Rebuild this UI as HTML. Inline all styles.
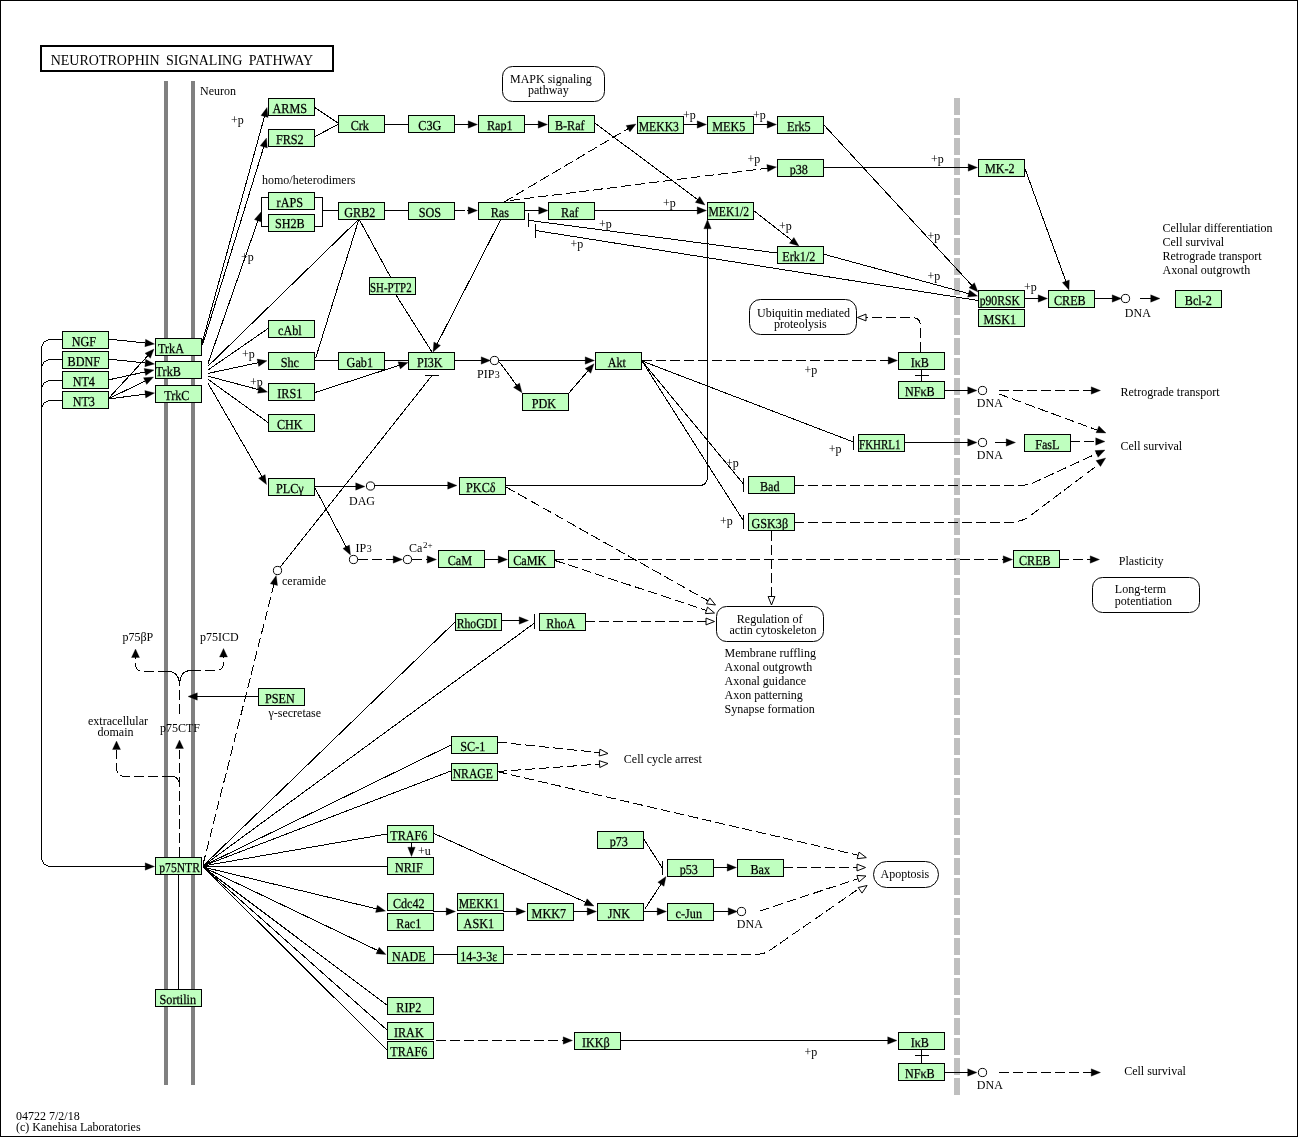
<!DOCTYPE html>
<html><head><meta charset="utf-8"><title>Neurotrophin signaling pathway</title>
<style>
html,body{margin:0;padding:0;background:#fff;}
body{width:1298px;height:1137px;overflow:hidden;font-family:"Liberation Serif",serif;}
svg{display:block;will-change:transform;}
.l{stroke:#000;stroke-width:1;fill:none;shape-rendering:crispEdges;}
.d{stroke-dasharray:10 4;}
.b{fill:#bfffbf;stroke:#000;stroke-width:1;shape-rendering:crispEdges;}
.bt{font-family:"Liberation Serif",serif;font-size:13.7px;text-rendering:geometricPrecision;text-anchor:middle;fill:#000;stroke:#000;stroke-width:0.25px;}
.t{font-family:"Liberation Serif",serif;font-size:12px;fill:#000;}
</style></head><body>
<svg width="1298" height="1137" viewBox="0 0 1298 1137">
<rect x="0" y="0" width="1298" height="1137" fill="#fff"/>
<rect x="0.5" y="0.5" width="1297" height="1136" fill="none" stroke="#000" stroke-width="1" shape-rendering="crispEdges"/>
<rect x="41" y="46" width="292" height="25" fill="#fff" stroke="#000" stroke-width="2" shape-rendering="crispEdges"/>
<text x="50.7" y="65" style="font-family:'Liberation Serif',serif;font-size:14px;word-spacing:3px" id="title">NEUROTROPHIN SIGNALING PATHWAY</text>
<rect x="164" y="81" width="4" height="1004" fill="#808080"/>
<rect x="191" y="81" width="4" height="1004" fill="#808080"/>
<line x1="957" y1="98" x2="957" y2="1095" stroke="#bfbfbf" stroke-width="6" stroke-dasharray="17 3"/>
<rect x="502.5" y="66.5" width="102.0" height="35.0" rx="10" ry="10" fill="#fff" stroke="#000" stroke-width="1"/>
<rect x="749.5" y="299.5" width="107.0" height="35.0" rx="11" ry="11" fill="#fff" stroke="#000" stroke-width="1"/>
<rect x="716.5" y="606.5" width="107.0" height="35.0" rx="10" ry="10" fill="#fff" stroke="#000" stroke-width="1"/>
<rect x="1092.5" y="577.5" width="107.0" height="35.0" rx="10" ry="10" fill="#fff" stroke="#000" stroke-width="1"/>
<rect x="873.5" y="861.5" width="65.0" height="26.0" rx="13" ry="13" fill="#fff" stroke="#000" stroke-width="1"/>
<path d="M62,339.5 H50.5 A9,9 0 0 0 41.5,348.5 V857.5 A9,9 0 0 0 50.5,866.5 H146" class="l"/>
<line x1="140.0" y1="866.5" x2="146.0" y2="866.5" class="l"/>
<polygon points="154.5,866.5 145.2,870.2 145.2,862.8" fill="#000" stroke="#000" stroke-width="0.3"/>
<path d="M62,359.5 H50.5 A9,9 0 0 0 41.5,368.5" class="l"/>
<path d="M62,380.5 H50.5 A9,9 0 0 0 41.5,389.5" class="l"/>
<path d="M62,400.5 H50.5 A9,9 0 0 0 41.5,409.5" class="l"/>
<line x1="108.0" y1="339.0" x2="146.0" y2="343.1" class="l" stroke-width="0.99"/>
<polygon points="154.5,344.0 144.9,346.7 145.6,339.3" fill="#000" stroke="#000" stroke-width="0.3"/>
<line x1="108.0" y1="359.0" x2="146.0" y2="363.1" class="l" stroke-width="0.99"/>
<polygon points="154.5,364.0 144.9,366.7 145.6,359.3" fill="#000" stroke="#000" stroke-width="0.3"/>
<line x1="108.0" y1="380.0" x2="145.7" y2="371.8" class="l" stroke-width="0.98"/>
<polygon points="154.0,370.0 145.7,375.6 144.1,368.4" fill="#000" stroke="#000" stroke-width="0.3"/>
<line x1="108.0" y1="399.0" x2="148.2" y2="355.3" class="l" stroke-width="0.74"/>
<polygon points="154.0,349.0 150.4,358.3 145.0,353.3" fill="#000" stroke="#000" stroke-width="0.3"/>
<line x1="108.0" y1="399.0" x2="145.8" y2="380.7" class="l" stroke-width="0.90"/>
<polygon points="153.5,377.0 146.7,384.4 143.5,377.7" fill="#000" stroke="#000" stroke-width="0.3"/>
<line x1="108.0" y1="399.0" x2="146.1" y2="394.1" class="l" stroke-width="0.99"/>
<polygon points="154.5,393.0 145.7,397.9 144.8,390.5" fill="#000" stroke="#000" stroke-width="0.3"/>
<line x1="201.5" y1="345.0" x2="264.7" y2="115.7" class="l" stroke-width="0.96"/>
<polygon points="267.0,107.5 268.1,117.4 261.0,115.5" fill="#000" stroke="#000" stroke-width="0.3"/>
<line x1="202.5" y1="345.0" x2="264.0" y2="146.1" class="l" stroke-width="0.96"/>
<polygon points="266.5,138.0 267.3,148.0 260.2,145.8" fill="#000" stroke="#000" stroke-width="0.3"/>
<line x1="208.0" y1="363.5" x2="258.2" y2="220.0" class="l" stroke-width="0.94"/>
<polygon points="261.0,212.0 261.4,222.0 254.4,219.6" fill="#000" stroke="#000" stroke-width="0.3"/>
<line x1="208.0" y1="366.2" x2="359.0" y2="219.0" class="l" stroke-width="0.72"/>
<line x1="208.0" y1="370.0" x2="268.0" y2="328.5" class="l" stroke-width="0.82"/>
<line x1="208.0" y1="373.4" x2="258.7" y2="362.6" class="l" stroke-width="0.98"/>
<polygon points="267.0,360.8 258.7,366.4 257.1,359.1" fill="#000" stroke="#000" stroke-width="0.3"/>
<line x1="208.0" y1="376.2" x2="259.3" y2="389.8" class="l" stroke-width="0.97"/>
<polygon points="267.5,392.0 257.6,393.2 259.5,386.0" fill="#000" stroke="#000" stroke-width="0.3"/>
<line x1="208.0" y1="379.3" x2="268.0" y2="422.5" class="l" stroke-width="0.81"/>
<line x1="208.0" y1="383.2" x2="262.2" y2="477.1" class="l" stroke-width="0.87"/>
<polygon points="266.5,484.5 258.6,478.3 265.1,474.6" fill="#000" stroke="#000" stroke-width="0.3"/>
<line x1="314.0" y1="107.0" x2="338.0" y2="123.0" class="l" stroke-width="0.83"/>
<line x1="314.0" y1="137.0" x2="338.0" y2="124.5" class="l" stroke-width="0.89"/>
<line x1="384.0" y1="124.5" x2="408.0" y2="124.5" class="l"/>
<line x1="454.0" y1="124.5" x2="469.0" y2="124.5" class="l"/>
<polygon points="477.5,124.5 468.2,128.2 468.2,120.8" fill="#000" stroke="#000" stroke-width="0.3"/>
<line x1="524.0" y1="124.5" x2="539.0" y2="124.5" class="l"/>
<polygon points="547.5,124.5 538.2,128.2 538.2,120.8" fill="#000" stroke="#000" stroke-width="0.3"/>
<line x1="594.0" y1="122.5" x2="698.2" y2="199.9" class="l" stroke-width="0.80"/>
<polygon points="705.0,205.0 695.3,202.4 699.7,196.5" fill="#000" stroke="#000" stroke-width="0.3"/>
<path d="M268,197.5 H261.5 V226.5 H268" class="l"/>
<path d="M314,197.5 H322.5 V226.5 H314" class="l"/>
<line x1="322.0" y1="210.5" x2="338.0" y2="210.5" class="l"/>
<line x1="384.0" y1="210.5" x2="408.0" y2="210.5" class="l"/>
<line x1="454.0" y1="210.5" x2="465.0" y2="210.5" class="l"/>
<line x1="467.0" y1="210.5" x2="469.0" y2="210.5" class="l"/>
<polygon points="477.5,210.5 468.2,214.2 468.2,206.8" fill="#000" stroke="#000" stroke-width="0.3"/>
<line x1="524.0" y1="210.5" x2="539.5" y2="210.5" class="l"/>
<polygon points="548.0,210.5 538.7,214.2 538.7,206.8" fill="#000" stroke="#000" stroke-width="0.3"/>
<line x1="594.0" y1="210.5" x2="698.0" y2="210.5" class="l"/>
<polygon points="706.5,210.5 697.2,214.2 697.2,206.8" fill="#000" stroke="#000" stroke-width="0.3"/>
<line x1="504.0" y1="202.0" x2="628.7" y2="128.3" class="l d" stroke-width="0.86"/>
<polygon points="636.0,124.0 629.9,131.9 626.1,125.5" fill="#000" stroke="#000" stroke-width="0.3"/>
<line x1="510.0" y1="200.5" x2="768.1" y2="168.1" class="l d" stroke-width="0.99"/>
<polygon points="776.5,167.0 767.7,171.8 766.8,164.5" fill="#000" stroke="#000" stroke-width="0.3"/>
<line x1="683.0" y1="124.5" x2="698.0" y2="124.5" class="l"/>
<polygon points="706.5,124.5 697.2,128.2 697.2,120.8" fill="#000" stroke="#000" stroke-width="0.3"/>
<line x1="753.0" y1="124.5" x2="768.0" y2="124.5" class="l"/>
<polygon points="776.5,124.5 767.2,128.2 767.2,120.8" fill="#000" stroke="#000" stroke-width="0.3"/>
<line x1="823.0" y1="124.0" x2="972.2" y2="285.8" class="l" stroke-width="0.73"/>
<polygon points="978.0,292.0 969.0,287.7 974.4,282.7" fill="#000" stroke="#000" stroke-width="0.3"/>
<line x1="823.0" y1="167.5" x2="969.0" y2="167.5" class="l"/>
<polygon points="977.5,167.5 968.2,171.2 968.2,163.8" fill="#000" stroke="#000" stroke-width="0.3"/>
<line x1="1024.0" y1="166.0" x2="1066.1" y2="282.0" class="l" stroke-width="0.94"/>
<polygon points="1069.0,290.0 1062.3,282.5 1069.3,280.0" fill="#000" stroke="#000" stroke-width="0.3"/>
<line x1="753.5" y1="210.5" x2="792.3" y2="240.8" class="l" stroke-width="0.79"/>
<polygon points="799.0,246.0 789.4,243.2 793.9,237.4" fill="#000" stroke="#000" stroke-width="0.3"/>
<line x1="823.0" y1="254.0" x2="969.3" y2="293.8" class="l" stroke-width="0.96"/>
<polygon points="977.5,296.0 967.6,297.1 969.5,290.0" fill="#000" stroke="#000" stroke-width="0.3"/>
<line x1="777.0" y1="253.0" x2="528.5" y2="220.3" class="l" stroke-width="0.99"/>
<line x1="528.5" y1="213.0" x2="528.5" y2="227.0" class="l"/>
<line x1="978.0" y1="300.5" x2="535.5" y2="230.5" class="l" stroke-width="0.99"/>
<line x1="535.5" y1="224.0" x2="535.5" y2="238.0" class="l"/>
<path d="M505,485.5 H699 Q707.5,485.5 707.5,477 V228" class="l"/>
<line x1="707.5" y1="240.0" x2="707.5" y2="228.0" class="l"/>
<polygon points="707.5,219.5 711.2,228.8 703.8,228.8" fill="#000" stroke="#000" stroke-width="0.3"/>
<line x1="1024.0" y1="298.5" x2="1039.0" y2="298.5" class="l"/>
<polygon points="1047.5,298.5 1038.2,302.2 1038.2,294.8" fill="#000" stroke="#000" stroke-width="0.3"/>
<line x1="1094.0" y1="298.5" x2="1113.0" y2="298.5" class="l"/>
<polygon points="1121.5,298.5 1112.2,302.2 1112.2,294.8" fill="#000" stroke="#000" stroke-width="0.3"/>
<line x1="1140.0" y1="298.5" x2="1151.5" y2="298.5" class="l"/>
<polygon points="1160.0,298.5 1150.7,302.2 1150.7,294.8" fill="#000" stroke="#000" stroke-width="0.3"/>
<path d="M920.5,352 V326 Q920.5,317.5 912,317.5 H866" class="l d"/>
<polygon points="857.5,317.5 866.0,314.1 866.0,320.9" fill="#fff" stroke="#000" stroke-width="1"/>
<line x1="642.0" y1="360.5" x2="889.0" y2="360.5" class="l d"/>
<polygon points="897.5,360.5 888.2,364.2 888.2,356.8" fill="#000" stroke="#000" stroke-width="0.3"/>
<line x1="921.5" y1="369.0" x2="921.5" y2="381.0" class="l"/>
<line x1="915.0" y1="375.5" x2="929.0" y2="375.5" class="l"/>
<line x1="944.0" y1="390.5" x2="968.5" y2="390.5" class="l"/>
<polygon points="977.0,390.5 967.7,394.2 967.7,386.8" fill="#000" stroke="#000" stroke-width="0.3"/>
<line x1="999.0" y1="390.5" x2="1092.0" y2="390.5" class="l d"/>
<polygon points="1100.5,390.5 1091.2,394.2 1091.2,386.8" fill="#000" stroke="#000" stroke-width="0.3"/>
<path d="M999,394 L1097,430" class="l d"/>
<polygon points="1106.0,433.0 1096.0,432.7 1098.9,425.9" fill="#000" stroke="#000" stroke-width="0.3"/>
<line x1="642.0" y1="361.0" x2="853.5" y2="442.0" class="l" stroke-width="0.93"/>
<line x1="853.5" y1="436.0" x2="853.5" y2="450.0" class="l"/>
<line x1="905.0" y1="442.5" x2="968.5" y2="442.5" class="l"/>
<polygon points="977.0,442.5 967.7,446.2 967.7,438.8" fill="#000" stroke="#000" stroke-width="0.3"/>
<line x1="995.0" y1="442.5" x2="1007.0" y2="442.5" class="l"/>
<polygon points="1015.5,442.5 1006.2,446.2 1006.2,438.8" fill="#000" stroke="#000" stroke-width="0.3"/>
<line x1="1070.0" y1="441.5" x2="1096.5" y2="441.5" class="l d"/>
<polygon points="1105.0,441.5 1095.7,445.2 1095.7,437.8" fill="#000" stroke="#000" stroke-width="0.3"/>
<line x1="642.0" y1="361.0" x2="743.5" y2="484.0" class="l" stroke-width="0.77"/>
<line x1="743.5" y1="478.0" x2="743.5" y2="492.0" class="l"/>
<line x1="642.0" y1="361.0" x2="743.5" y2="521.0" class="l" stroke-width="0.84"/>
<line x1="743.5" y1="515.0" x2="743.5" y2="529.0" class="l"/>
<path d="M794,485.5 H1018 Q1029,485.5 1036,481.6 L1097,453.5" class="l d"/>
<polygon points="1105.0,450.0 1098.1,457.3 1095.0,450.6" fill="#000" stroke="#000" stroke-width="0.3"/>
<path d="M794,522.5 H1008 Q1021,522.5 1030,516 L1098,465" class="l d"/>
<polygon points="1105.7,458.0 1100.5,466.5 1096.0,460.6" fill="#000" stroke="#000" stroke-width="0.3"/>
<line x1="771.5" y1="531.0" x2="771.5" y2="597.0" class="l d"/>
<polygon points="771.5,605.0 768.1,596.5 774.9,596.5" fill="#fff" stroke="#000" stroke-width="1"/>
<line x1="424.5" y1="375.5" x2="439.0" y2="375.5" class="l"/>
<line x1="432.0" y1="375.5" x2="280.3" y2="567.0" class="l" stroke-width="0.78"/>
<line x1="203.0" y1="864.5" x2="274.1" y2="583.8" class="l d" stroke-width="0.97"/>
<polygon points="276.2,575.6 277.5,585.5 270.3,583.7" fill="#000" stroke="#000" stroke-width="0.3"/>
<line x1="314.0" y1="486.5" x2="356.5" y2="486.5" class="l"/>
<polygon points="365.0,486.5 355.7,490.2 355.7,482.8" fill="#000" stroke="#000" stroke-width="0.3"/>
<line x1="375.0" y1="485.5" x2="448.5" y2="485.5" class="l"/>
<polygon points="457.0,485.5 447.7,489.2 447.7,481.8" fill="#000" stroke="#000" stroke-width="0.3"/>
<line x1="315.0" y1="488.0" x2="346.5" y2="547.5" class="l" stroke-width="0.88"/>
<polygon points="350.5,555.0 342.9,548.5 349.4,545.0" fill="#000" stroke="#000" stroke-width="0.3"/>
<line x1="358.0" y1="559.5" x2="394.0" y2="559.5" class="l d"/>
<polygon points="402.5,559.5 393.2,563.2 393.2,555.8" fill="#000" stroke="#000" stroke-width="0.3"/>
<line x1="412.0" y1="559.5" x2="428.0" y2="559.5" class="l d"/>
<polygon points="436.5,559.5 427.2,563.2 427.2,555.8" fill="#000" stroke="#000" stroke-width="0.3"/>
<line x1="484.0" y1="559.5" x2="499.0" y2="559.5" class="l"/>
<polygon points="507.5,559.5 498.2,563.2 498.2,555.8" fill="#000" stroke="#000" stroke-width="0.3"/>
<line x1="554.0" y1="559.5" x2="1004.0" y2="559.5" class="l d"/>
<polygon points="1012.5,559.5 1003.2,563.2 1003.2,555.8" fill="#000" stroke="#000" stroke-width="0.3"/>
<line x1="1059.0" y1="559.5" x2="1091.0" y2="559.5" class="l d"/>
<polygon points="1099.5,559.5 1090.2,563.2 1090.2,555.8" fill="#000" stroke="#000" stroke-width="0.3"/>
<line x1="555.0" y1="560.5" x2="706.9" y2="610.5" class="l d" stroke-width="0.95"/>
<polygon points="714.5,613.0 705.4,613.6 707.5,607.1" fill="#fff" stroke="#000" stroke-width="1"/>
<line x1="506.0" y1="487.0" x2="708.5" y2="601.1" class="l d" stroke-width="0.87"/>
<polygon points="715.5,605.0 706.4,603.8 709.8,597.9" fill="#fff" stroke="#000" stroke-width="1"/>
<line x1="585.0" y1="621.5" x2="706.5" y2="621.5" class="l d"/>
<polygon points="714.5,621.5 706.0,624.9 706.0,618.1" fill="#fff" stroke="#000" stroke-width="1"/>
<line x1="314.0" y1="360.5" x2="338.0" y2="360.5" class="l"/>
<line x1="384.0" y1="360.5" x2="408.0" y2="360.5" class="l"/>
<line x1="315.0" y1="392.5" x2="399.9" y2="365.1" class="l" stroke-width="0.95"/>
<polygon points="408.0,362.5 400.3,368.9 398.0,361.8" fill="#000" stroke="#000" stroke-width="0.3"/>
<line x1="315.5" y1="358.5" x2="359.0" y2="219.0" class="l" stroke-width="0.95"/>
<line x1="359.0" y1="219.0" x2="391.0" y2="278.0" class="l" stroke-width="0.88"/>
<line x1="396.0" y1="295.0" x2="432.0" y2="352.0" class="l" stroke-width="0.85"/>
<line x1="501.0" y1="219.0" x2="436.9" y2="344.4" class="l" stroke-width="0.89"/>
<polygon points="433.0,352.0 433.9,342.0 440.5,345.4" fill="#000" stroke="#000" stroke-width="0.3"/>
<line x1="454.0" y1="360.5" x2="482.0" y2="360.5" class="l"/>
<polygon points="490.5,360.5 481.2,364.2 481.2,356.8" fill="#000" stroke="#000" stroke-width="0.3"/>
<line x1="498.0" y1="360.5" x2="586.0" y2="360.5" class="l"/>
<polygon points="594.5,360.5 585.2,364.2 585.2,356.8" fill="#000" stroke="#000" stroke-width="0.3"/>
<line x1="499.5" y1="362.0" x2="517.0" y2="385.8" class="l" stroke-width="0.81"/>
<polygon points="522.0,392.7 513.5,387.4 519.5,383.0" fill="#000" stroke="#000" stroke-width="0.3"/>
<line x1="569.0" y1="393.0" x2="588.5" y2="370.3" class="l" stroke-width="0.76"/>
<polygon points="594.0,363.8 590.8,373.3 585.1,368.5" fill="#000" stroke="#000" stroke-width="0.3"/>
<line x1="203.0" y1="866.0" x2="455.0" y2="622.0" class="l" stroke-width="0.72"/>
<line x1="203.0" y1="866.0" x2="534.5" y2="623.0" class="l" stroke-width="0.81"/>
<line x1="534.5" y1="614.0" x2="534.5" y2="629.0" class="l"/>
<line x1="502.0" y1="620.5" x2="520.0" y2="620.5" class="l"/>
<polygon points="528.5,620.5 519.2,624.2 519.2,616.8" fill="#000" stroke="#000" stroke-width="0.3"/>
<line x1="203.0" y1="866.0" x2="451.0" y2="745.0" class="l" stroke-width="0.90"/>
<line x1="203.0" y1="866.0" x2="451.0" y2="771.0" class="l" stroke-width="0.93"/>
<line x1="203.0" y1="866.0" x2="387.0" y2="834.0" class="l" stroke-width="0.99"/>
<line x1="203.0" y1="866.5" x2="387.0" y2="866.5" class="l"/>
<line x1="203.0" y1="867.0" x2="377.2" y2="909.0" class="l" stroke-width="0.97"/>
<polygon points="385.5,911.0 375.6,912.4 377.3,905.2" fill="#000" stroke="#000" stroke-width="0.3"/>
<line x1="203.0" y1="867.0" x2="378.3" y2="950.8" class="l" stroke-width="0.90"/>
<polygon points="386.0,954.5 376.0,953.8 379.2,947.2" fill="#000" stroke="#000" stroke-width="0.3"/>
<line x1="203.0" y1="867.0" x2="387.0" y2="1005.0" class="l" stroke-width="0.80"/>
<line x1="203.0" y1="867.0" x2="387.0" y2="1030.0" class="l" stroke-width="0.75"/>
<line x1="203.0" y1="867.0" x2="387.0" y2="1050.0" class="l" stroke-width="0.72"/>
<line x1="497.0" y1="742.0" x2="600.0" y2="752.7" class="l d" stroke-width="0.99"/>
<polygon points="608.0,753.5 599.2,756.0 599.9,749.2" fill="#fff" stroke="#000" stroke-width="1"/>
<line x1="497.0" y1="771.5" x2="600.0" y2="764.1" class="l d"/>
<polygon points="608.0,763.5 599.8,767.5 599.3,760.7" fill="#fff" stroke="#000" stroke-width="1"/>
<path d="M497,771.5 L845,852.2 Q852,853.8 858,855.3" class="l d"/>
<polygon points="866.3,857.6 857.2,858.7 859.0,852.1" fill="#fff" stroke="#000" stroke-width="1"/>
<line x1="434.0" y1="833.5" x2="586.3" y2="902.5" class="l" stroke-width="0.91"/>
<polygon points="594.0,906.0 584.0,905.5 587.1,898.8" fill="#000" stroke="#000" stroke-width="0.3"/>
<line x1="411.5" y1="842.0" x2="411.5" y2="848.0" class="l"/>
<polygon points="411.5,856.5 407.8,847.2 415.2,847.2" fill="#000" stroke="#000" stroke-width="0.3"/>
<line x1="258.0" y1="696.5" x2="196.5" y2="696.5" class="l"/>
<polygon points="188.0,696.5 197.3,692.8 197.3,700.2" fill="#000" stroke="#000" stroke-width="0.3"/>
<line x1="644.0" y1="839.5" x2="662.0" y2="867.5" class="l" stroke-width="0.84"/>
<line x1="662.5" y1="861.0" x2="662.5" y2="875.0" class="l"/>
<line x1="644.5" y1="909.5" x2="661.4" y2="883.6" class="l" stroke-width="0.84"/>
<polygon points="666.0,876.5 664.0,886.3 657.8,882.3" fill="#000" stroke="#000" stroke-width="0.3"/>
<line x1="644.0" y1="911.5" x2="658.0" y2="911.5" class="l"/>
<polygon points="666.5,911.5 657.2,915.2 657.2,907.8" fill="#000" stroke="#000" stroke-width="0.3"/>
<line x1="713.0" y1="911.5" x2="729.0" y2="911.5" class="l"/>
<polygon points="737.5,911.5 728.2,915.2 728.2,907.8" fill="#000" stroke="#000" stroke-width="0.3"/>
<line x1="760.0" y1="911.0" x2="858.4" y2="878.5" class="l d" stroke-width="0.95"/>
<polygon points="866.0,876.0 859.0,881.9 856.9,875.4" fill="#fff" stroke="#000" stroke-width="1"/>
<line x1="713.0" y1="867.5" x2="728.0" y2="867.5" class="l"/>
<polygon points="736.5,867.5 727.2,871.2 727.2,863.8" fill="#000" stroke="#000" stroke-width="0.3"/>
<line x1="783.0" y1="867.5" x2="857.5" y2="867.5" class="l d"/>
<polygon points="865.5,867.5 857.0,870.9 857.0,864.1" fill="#fff" stroke="#000" stroke-width="1"/>
<path d="M503,954.5 H754 Q765,954.5 771,949.5 L859.5,888.2" class="l d"/>
<polygon points="867.1,885.5 862.0,893.1 858.2,887.5" fill="#fff" stroke="#000" stroke-width="1"/>
<line x1="433.0" y1="954.5" x2="457.0" y2="954.5" class="l"/>
<line x1="433.0" y1="911.5" x2="447.0" y2="911.5" class="l"/>
<polygon points="455.5,911.5 446.2,915.2 446.2,907.8" fill="#000" stroke="#000" stroke-width="0.3"/>
<line x1="503.0" y1="911.5" x2="517.1" y2="911.5" class="l"/>
<polygon points="525.6,911.5 516.3,915.2 516.3,907.8" fill="#000" stroke="#000" stroke-width="0.3"/>
<line x1="573.0" y1="911.5" x2="588.0" y2="911.5" class="l"/>
<polygon points="596.5,911.5 587.2,915.2 587.2,907.8" fill="#000" stroke="#000" stroke-width="0.3"/>
<line x1="436.0" y1="1040.5" x2="564.0" y2="1040.5" class="l d"/>
<polygon points="572.5,1040.5 563.2,1044.2 563.2,1036.8" fill="#000" stroke="#000" stroke-width="0.3"/>
<line x1="620.0" y1="1040.5" x2="888.5" y2="1040.5" class="l"/>
<polygon points="897.0,1040.5 887.7,1044.2 887.7,1036.8" fill="#000" stroke="#000" stroke-width="0.3"/>
<line x1="921.5" y1="1049.0" x2="921.5" y2="1063.0" class="l"/>
<line x1="915.0" y1="1055.5" x2="929.0" y2="1055.5" class="l"/>
<line x1="944.0" y1="1072.5" x2="968.5" y2="1072.5" class="l"/>
<polygon points="977.0,1072.5 967.7,1076.2 967.7,1068.8" fill="#000" stroke="#000" stroke-width="0.3"/>
<line x1="999.0" y1="1072.5" x2="1092.0" y2="1072.5" class="l d"/>
<polygon points="1100.5,1072.5 1091.2,1076.2 1091.2,1068.8" fill="#000" stroke="#000" stroke-width="0.3"/>
<line x1="178.5" y1="875.0" x2="178.5" y2="989.0" class="l"/>
<path d="M179.5,857 V750" class="l d"/>
<polygon points="179.5,740.0 183.5,748.5 175.5,748.5" fill="#000" stroke="#000" stroke-width="0.3"/>
<path d="M172,776.5 Q179.5,776.5 179.5,786" class="l"/>
<path d="M172,776.5 H125 Q116.5,776.5 116.5,768 V750" class="l d"/>
<polygon points="116.5,741.0 120.5,749.5 112.5,749.5" fill="#000" stroke="#000" stroke-width="0.3"/>
<path d="M179.5,714 V686" class="l d"/>
<path d="M179.5,686 Q179.5,671.5 168,671.5" class="l"/>
<path d="M179.5,686 Q179.5,670.5 191,670.5" class="l"/>
<path d="M168,671.5 H143 Q135.5,671.5 135.5,663.5 V657" class="l d"/>
<path d="M191,670.5 H216 Q223.5,670.5 223.5,662.5 V656" class="l d"/>
<polygon points="135.5,649.0 139.5,657.5 131.5,657.5" fill="#000" stroke="#000" stroke-width="0.3"/>
<polygon points="223.5,648.5 227.5,657.0 219.5,657.0" fill="#000" stroke="#000" stroke-width="0.3"/>
<rect x="268.5" y="98.5" width="46" height="17" class="b"/>
<text transform="translate(289.8,113) scale(0.889,1)" class="bt">ARMS</text>
<rect x="268.5" y="129.5" width="46" height="17" class="b"/>
<text transform="translate(289.8,144) scale(0.889,1)" class="bt">FRS2</text>
<rect x="268.5" y="192.5" width="46" height="17" class="b"/>
<text transform="translate(289.8,207) scale(0.889,1)" class="bt">rAPS</text>
<rect x="268.5" y="214.5" width="46" height="17" class="b"/>
<text transform="translate(289.8,228) scale(0.889,1)" class="bt">SH2B</text>
<rect x="338.5" y="115.5" width="46" height="17" class="b"/>
<text transform="translate(359.8,130) scale(0.889,1)" class="bt">Crk</text>
<rect x="408.5" y="115.5" width="46" height="17" class="b"/>
<text transform="translate(429.8,130) scale(0.889,1)" class="bt">C3G</text>
<rect x="478.5" y="115.5" width="46" height="17" class="b"/>
<text transform="translate(499.8,130) scale(0.889,1)" class="bt">Rap1</text>
<rect x="548.5" y="115.5" width="46" height="17" class="b"/>
<text transform="translate(569.8,130) scale(0.889,1)" class="bt">B-Raf</text>
<rect x="637.5" y="116.5" width="46" height="17" class="b"/>
<text transform="translate(658.8,131) scale(0.853,1)" class="bt">MEKK3</text>
<rect x="707.5" y="116.5" width="46" height="17" class="b"/>
<text transform="translate(728.8,131) scale(0.889,1)" class="bt">MEK5</text>
<rect x="777.5" y="116.5" width="46" height="17" class="b"/>
<text transform="translate(798.8,131) scale(0.889,1)" class="bt">Erk5</text>
<rect x="777.5" y="159.5" width="46" height="17" class="b"/>
<text transform="translate(798.8,174) scale(0.889,1)" class="bt">p38</text>
<rect x="978.5" y="159.5" width="46" height="17" class="b"/>
<text transform="translate(999.8,173) scale(0.889,1)" class="bt">MK-2</text>
<rect x="338.5" y="202.5" width="46" height="17" class="b"/>
<text transform="translate(359.8,217) scale(0.889,1)" class="bt">GRB2</text>
<rect x="408.5" y="202.5" width="46" height="17" class="b"/>
<text transform="translate(429.8,217) scale(0.889,1)" class="bt">SOS</text>
<rect x="478.5" y="202.5" width="46" height="17" class="b"/>
<text transform="translate(499.8,217) scale(0.889,1)" class="bt">Ras</text>
<rect x="548.5" y="202.5" width="46" height="17" class="b"/>
<text transform="translate(569.8,217) scale(0.889,1)" class="bt">Raf</text>
<rect x="707.5" y="202.5" width="46" height="17" class="b"/>
<text transform="translate(728.8,216) scale(0.849,1)" class="bt">MEK1/2</text>
<rect x="777.5" y="246.5" width="46" height="17" class="b"/>
<text transform="translate(798.8,261) scale(0.889,1)" class="bt">Erk1/2</text>
<rect x="369.5" y="277.5" width="46" height="17" class="b"/>
<text transform="translate(390.8,292) scale(0.790,1)" class="bt">SH-PTP2</text>
<rect x="978.5" y="290.5" width="46" height="17" class="b"/>
<text transform="translate(999.8,305) scale(0.853,1)" class="bt">p90RSK</text>
<rect x="978.5" y="309.5" width="46" height="17" class="b"/>
<text transform="translate(999.8,324) scale(0.889,1)" class="bt">MSK1</text>
<rect x="1048.5" y="290.5" width="46" height="17" class="b"/>
<text transform="translate(1069.8,305) scale(0.889,1)" class="bt">CREB</text>
<rect x="1175.5" y="290.5" width="46" height="17" class="b"/>
<text transform="translate(1198.3,305) scale(0.889,1)" class="bt">Bcl-2</text>
<rect x="62.5" y="331.5" width="46" height="17" class="b"/>
<text transform="translate(83.8,346) scale(0.889,1)" class="bt">NGF</text>
<rect x="62.5" y="351.5" width="46" height="17" class="b"/>
<text transform="translate(83.8,366) scale(0.889,1)" class="bt">BDNF</text>
<rect x="62.5" y="371.5" width="46" height="17" class="b"/>
<text transform="translate(83.8,386) scale(0.889,1)" class="bt">NT4</text>
<rect x="62.5" y="391.5" width="46" height="17" class="b"/>
<text transform="translate(83.8,406) scale(0.889,1)" class="bt">NT3</text>
<rect x="155.5" y="338.5" width="46" height="17" class="b"/>
<text transform="translate(171.0,353) scale(0.889,1)" class="bt">TrkA</text>
<rect x="155.5" y="361.5" width="46" height="17" class="b"/>
<text transform="translate(168.2,376) scale(0.889,1)" class="bt">TrkB</text>
<rect x="155.5" y="385.5" width="46" height="17" class="b"/>
<text transform="translate(176.8,400) scale(0.889,1)" class="bt">TrkC</text>
<rect x="268.5" y="320.5" width="46" height="17" class="b"/>
<text transform="translate(289.8,335) scale(0.889,1)" class="bt">cAbl</text>
<rect x="268.5" y="352.5" width="46" height="17" class="b"/>
<text transform="translate(289.8,367) scale(0.889,1)" class="bt">Shc</text>
<rect x="268.5" y="383.5" width="46" height="17" class="b"/>
<text transform="translate(289.8,398) scale(0.889,1)" class="bt">IRS1</text>
<rect x="268.5" y="414.5" width="46" height="17" class="b"/>
<text transform="translate(289.8,429) scale(0.889,1)" class="bt">CHK</text>
<rect x="268.5" y="478.5" width="46" height="17" class="b"/>
<text transform="translate(289.8,493) scale(0.889,1)" class="bt">PLCγ</text>
<rect x="338.5" y="352.5" width="46" height="17" class="b"/>
<text transform="translate(359.8,367) scale(0.889,1)" class="bt">Gab1</text>
<rect x="408.5" y="352.5" width="46" height="17" class="b"/>
<text transform="translate(429.8,367) scale(0.889,1)" class="bt">PI3K</text>
<rect x="595.5" y="352.5" width="46" height="17" class="b"/>
<text transform="translate(616.8,367) scale(0.889,1)" class="bt">Akt</text>
<rect x="522.5" y="393.5" width="46" height="17" class="b"/>
<text transform="translate(543.8,408) scale(0.889,1)" class="bt">PDK</text>
<rect x="459.5" y="477.5" width="46" height="17" class="b"/>
<text transform="translate(480.8,492) scale(0.889,1)" class="bt">PKCδ</text>
<rect x="438.5" y="550.5" width="46" height="17" class="b"/>
<text transform="translate(459.8,565) scale(0.889,1)" class="bt">CaM</text>
<rect x="508.5" y="550.5" width="46" height="17" class="b"/>
<text transform="translate(529.8,565) scale(0.889,1)" class="bt">CaMK</text>
<rect x="898.5" y="352.5" width="46" height="17" class="b"/>
<text transform="translate(919.8,367) scale(0.889,1)" class="bt">IκB</text>
<rect x="898.5" y="381.5" width="46" height="17" class="b"/>
<text transform="translate(919.8,396) scale(0.889,1)" class="bt">NFκB</text>
<rect x="858.5" y="434.5" width="46" height="17" class="b"/>
<text transform="translate(879.8,449) scale(0.802,1)" class="bt">FKHRL1</text>
<rect x="1024.5" y="434.5" width="46" height="17" class="b"/>
<text transform="translate(1047.3,449) scale(0.889,1)" class="bt">FasL</text>
<rect x="748.5" y="476.5" width="46" height="17" class="b"/>
<text transform="translate(769.8,491) scale(0.889,1)" class="bt">Bad</text>
<rect x="748.5" y="513.5" width="46" height="17" class="b"/>
<text transform="translate(769.8,528) scale(0.887,1)" class="bt">GSK3β</text>
<rect x="1013.5" y="550.5" width="46" height="17" class="b"/>
<text transform="translate(1034.8,565) scale(0.889,1)" class="bt">CREB</text>
<rect x="258.5" y="688.5" width="46" height="17" class="b"/>
<text transform="translate(279.8,703) scale(0.889,1)" class="bt">PSEN</text>
<rect x="455.5" y="613.5" width="46" height="17" class="b"/>
<text transform="translate(476.8,628) scale(0.853,1)" class="bt">RhoGDI</text>
<rect x="539.5" y="613.5" width="46" height="17" class="b"/>
<text transform="translate(560.8,628) scale(0.889,1)" class="bt">RhoA</text>
<rect x="451.5" y="736.5" width="46" height="17" class="b"/>
<text transform="translate(472.8,751) scale(0.889,1)" class="bt">SC-1</text>
<rect x="451.5" y="763.5" width="46" height="17" class="b"/>
<text transform="translate(472.8,778) scale(0.853,1)" class="bt">NRAGE</text>
<rect x="387.5" y="825.5" width="46" height="17" class="b"/>
<text transform="translate(408.8,840) scale(0.883,1)" class="bt">TRAF6</text>
<rect x="387.5" y="857.5" width="46" height="17" class="b"/>
<text transform="translate(408.8,872) scale(0.889,1)" class="bt">NRIF</text>
<rect x="597.5" y="831.5" width="46" height="17" class="b"/>
<text transform="translate(618.8,846) scale(0.889,1)" class="bt">p73</text>
<rect x="155.5" y="857.5" width="46" height="17" class="b"/>
<text transform="translate(179.6,872) scale(0.849,1)" class="bt">p75NTR</text>
<rect x="155.5" y="989.5" width="46" height="17" class="b"/>
<text transform="translate(177.8,1004) scale(0.888,1)" class="bt">Sortilin</text>
<rect x="387.5" y="893.5" width="46" height="17" class="b"/>
<text transform="translate(408.8,908) scale(0.889,1)" class="bt">Cdc42</text>
<rect x="387.5" y="913.5" width="46" height="17" class="b"/>
<text transform="translate(408.8,928) scale(0.889,1)" class="bt">Rac1</text>
<rect x="457.5" y="893.5" width="46" height="17" class="b"/>
<text transform="translate(478.8,908) scale(0.853,1)" class="bt">MEKK1</text>
<rect x="457.5" y="913.5" width="46" height="17" class="b"/>
<text transform="translate(478.8,928) scale(0.889,1)" class="bt">ASK1</text>
<rect x="527.5" y="903.5" width="46" height="17" class="b"/>
<text transform="translate(548.8,918) scale(0.889,1)" class="bt">MKK7</text>
<rect x="597.5" y="903.5" width="46" height="17" class="b"/>
<text transform="translate(618.8,918) scale(0.889,1)" class="bt">JNK</text>
<rect x="387.5" y="946.5" width="46" height="17" class="b"/>
<text transform="translate(408.8,961) scale(0.889,1)" class="bt">NADE</text>
<rect x="457.5" y="946.5" width="46" height="17" class="b"/>
<text transform="translate(478.8,961) scale(0.880,1)" class="bt">14-3-3ε</text>
<rect x="387.5" y="997.5" width="46" height="17" class="b"/>
<text transform="translate(408.8,1012) scale(0.889,1)" class="bt">RIP2</text>
<rect x="387.5" y="1022.5" width="46" height="17" class="b"/>
<text transform="translate(408.8,1037) scale(0.889,1)" class="bt">IRAK</text>
<rect x="387.5" y="1041.5" width="46" height="17" class="b"/>
<text transform="translate(408.8,1056) scale(0.883,1)" class="bt">TRAF6</text>
<rect x="574.5" y="1032.5" width="46" height="17" class="b"/>
<text transform="translate(595.8,1047) scale(0.889,1)" class="bt">IKKβ</text>
<rect x="667.5" y="859.5" width="46" height="17" class="b"/>
<text transform="translate(688.8,874) scale(0.889,1)" class="bt">p53</text>
<rect x="737.5" y="859.5" width="46" height="17" class="b"/>
<text transform="translate(760.3,874) scale(0.889,1)" class="bt">Bax</text>
<rect x="667.5" y="903.5" width="46" height="17" class="b"/>
<text transform="translate(688.8,918) scale(0.889,1)" class="bt">c-Jun</text>
<rect x="898.5" y="1032.5" width="46" height="17" class="b"/>
<text transform="translate(919.8,1047) scale(0.889,1)" class="bt">IκB</text>
<rect x="898.5" y="1063.5" width="46" height="17" class="b"/>
<text transform="translate(919.8,1078) scale(0.889,1)" class="bt">NFκB</text>
<text x="200.0" y="95.2" class="t">Neuron</text>
<text x="231.0" y="123.7" class="t">+p</text>
<text x="262.0" y="183.7" class="t">homo/heterodimers</text>
<text x="241.0" y="260.7" class="t">+p</text>
<text x="510.0" y="83.0" class="t">MAPK signaling</text>
<text x="528.0" y="94.0" class="t">pathway</text>
<text x="599.0" y="228.2" class="t">+p</text>
<text x="570.5" y="248.2" class="t">+p</text>
<text x="683.0" y="119.0" class="t">+p</text>
<text x="753.0" y="119.0" class="t">+p</text>
<text x="747.5" y="163.2" class="t">+p</text>
<text x="931.0" y="163.2" class="t">+p</text>
<text x="663.0" y="206.7" class="t">+p</text>
<text x="779.0" y="230.2" class="t">+p</text>
<text x="927.5" y="239.7" class="t">+p</text>
<text x="927.5" y="279.7" class="t">+p</text>
<text x="1024.0" y="291.2" class="t">+p</text>
<text x="1162.5" y="231.7" class="t">Cellular differentiation</text>
<text x="1162.5" y="245.7" class="t">Cell survival</text>
<text x="1162.5" y="259.7" class="t">Retrograde transport</text>
<text x="1162.5" y="273.7" class="t">Axonal outgrowth</text>
<text x="1124.8" y="317.4" class="t">DNA</text>
<text x="242.0" y="358.2" class="t">+p</text>
<text x="250.0" y="385.7" class="t">+p</text>
<text x="349.0" y="504.7" class="t">DAG</text>
<text x="757.0" y="316.7" class="t">Ubiquitin mediated</text>
<text x="774.0" y="328.2" class="t">proteolysis</text>
<text x="804.5" y="374.4" class="t">+p</text>
<text x="828.8" y="453.2" class="t">+p</text>
<text x="726.0" y="466.7" class="t">+p</text>
<text x="720.0" y="524.7" class="t">+p</text>
<text x="976.8" y="406.7" class="t">DNA</text>
<text x="1120.5" y="395.7" class="t">Retrograde transport</text>
<text x="976.8" y="458.7" class="t">DNA</text>
<text x="1120.5" y="450.2" class="t">Cell survival</text>
<text x="1118.8" y="565.2" class="t">Plasticity</text>
<text x="282.0" y="585.2" class="t">ceramide</text>
<text x="122.5" y="640.7" class="t">p75βP</text>
<text x="200.0" y="640.7" class="t">p75ICD</text>
<text x="268.5" y="716.7" class="t">γ-secretase</text>
<text x="88.0" y="724.7" class="t">extracellular</text>
<text x="97.5" y="735.7" class="t">domain</text>
<text x="160.0" y="731.7" class="t">p75CTF</text>
<text x="736.8" y="622.7" class="t">Regulation of</text>
<text x="729.5" y="633.7" class="t">actin cytoskeleton</text>
<text x="724.5" y="656.7" class="t">Membrane ruffling</text>
<text x="724.5" y="670.7" class="t">Axonal outgrowth</text>
<text x="724.5" y="684.7" class="t">Axonal guidance</text>
<text x="724.5" y="698.7" class="t">Axon patterning</text>
<text x="724.5" y="712.7" class="t">Synapse formation</text>
<text x="623.8" y="762.7" class="t">Cell cycle arrest</text>
<text x="418.0" y="854.5" class="t">+u</text>
<text x="1114.8" y="593.2" class="t">Long-term</text>
<text x="1114.8" y="605.2" class="t">potentiation</text>
<text x="880.5" y="878.2" class="t">Apoptosis</text>
<text x="736.8" y="928.2" class="t">DNA</text>
<text x="804.5" y="1055.5" class="t">+p</text>
<text x="976.8" y="1088.7" class="t">DNA</text>
<text x="1124.2" y="1074.7" class="t">Cell survival</text>
<text x="16.0" y="1119.7" class="t">04722 7/2/18</text>
<text x="16.0" y="1130.7" class="t">(c) Kanehisa Laboratories</text>
<circle cx="494.5" cy="360.5" r="4.1" fill="#fff" stroke="#000" stroke-width="1"/>
<circle cx="370.5" cy="486.0" r="4.1" fill="#fff" stroke="#000" stroke-width="1"/>
<circle cx="353.5" cy="559.5" r="4.1" fill="#fff" stroke="#000" stroke-width="1"/>
<circle cx="407.5" cy="559.5" r="4.1" fill="#fff" stroke="#000" stroke-width="1"/>
<circle cx="1125.5" cy="298.5" r="4.1" fill="#fff" stroke="#000" stroke-width="1"/>
<circle cx="982.5" cy="390.5" r="4.1" fill="#fff" stroke="#000" stroke-width="1"/>
<circle cx="982.5" cy="442.5" r="4.1" fill="#fff" stroke="#000" stroke-width="1"/>
<circle cx="277.5" cy="570.5" r="4.1" fill="#fff" stroke="#000" stroke-width="1"/>
<circle cx="741.5" cy="911.5" r="4.1" fill="#fff" stroke="#000" stroke-width="1"/>
<circle cx="982.5" cy="1072.5" r="4.1" fill="#fff" stroke="#000" stroke-width="1"/>
<text x="477" y="378" class="t">PIP<tspan font-size="10px" dx="0.5">3</tspan></text>
<text x="355.5" y="552" class="t">IP<tspan font-size="10px" dx="0.5">3</tspan></text>
<text x="409" y="552" class="t">Ca</text>
<text x="423" y="548" class="t" style="font-size:9px">2+</text>
</svg>
</body></html>
